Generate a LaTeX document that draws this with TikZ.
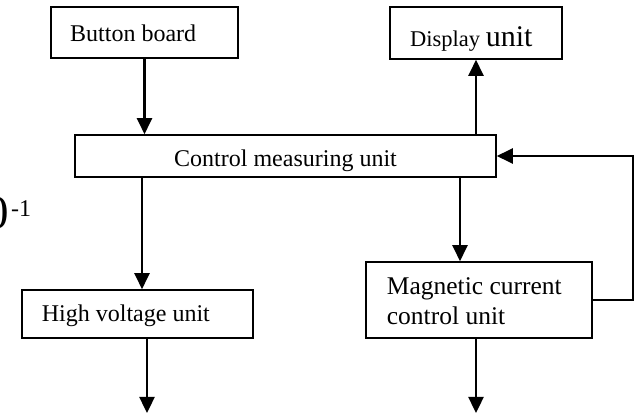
\documentclass[tikz,border=0pt]{standalone}
\usepackage{fontspec}
\setmainfont{Liberation Serif}
\usetikzlibrary{arrows.meta}
\tikzset{
  box/.style={draw=black, line width=1.6pt, rectangle, inner sep=0pt, fill=white},
  lbl/.style={anchor=base west, inner sep=0pt, text=black},
  arr/.style={draw=black, line width=2.4pt, -{Triangle[width=15pt,length=16pt]}},
  fbline/.style={draw=black, line width=2.4pt}
}
\begin{document}
\begin{tikzpicture}[x=1pt,y=-1pt]
\useasboundingbox (0,0) rectangle (638,414);
% boxes
\node[box, minimum width=187pt, minimum height=51pt] (bb) at (144.5,32.5) {};
\node[box, minimum width=172pt, minimum height=52pt] (disp) at (476,33) {};
\node[box, minimum width=421pt, minimum height=42pt] (ctrl) at (285.5,156) {};
\node[box, minimum width=231pt, minimum height=48pt] (hv) at (137.5,314) {};
\node[box, minimum width=226pt, minimum height=76pt] (mag) at (479,300) {};
% texts
\node[lbl, font=\fontsize{24}{29}\selectfont] (tbb) at (70,42) {Button board};
\node[lbl] (tdisp) at (410,47) {\fontsize{22.5}{27}\selectfont Display \fontsize{30}{36}\selectfont unit};
\node[lbl, font=\fontsize{24}{29}\selectfont] (tctrl) at (174,167) {Control measuring unit};
\node[lbl, font=\fontsize{24}{29}\selectfont] (thv) at (41.7,321.7) {High voltage unit};
\node[lbl, font=\fontsize{25.5}{30}\selectfont] (tmag1) at (386.7,295) {Magnetic current};
\node[lbl, font=\fontsize{25.5}{30}\selectfont] (tmag2) at (386.7,325) {control unit};
% stray text at left edge
\node[anchor=base east, inner sep=0pt, font=\fontsize{47}{56}\selectfont] (zero) at (9.5,229) {0};
\node[lbl, font=\fontsize{24}{29}\selectfont] (sup) at (11,217) {-1};
% free ends
\coordinate (hvout) at (147,413);
\coordinate (magout) at (476,413);
\coordinate (cm) at (460,0);
\coordinate (fb) at (633,0);
% connectors
\draw[arr] (bb.south) -- (bb.south |- ctrl.north);
\draw[arr] (ctrl.north -| disp.south) -- (disp.south);
\draw[arr] ([xshift=4.5pt]hv.north |- ctrl.south) -- ([xshift=4.5pt]hv.north);
\draw[arr] (hvout |- hv.south) -- (hvout);
\draw[arr] (cm |- ctrl.south) -- (cm |- mag.north);
\draw[arr] (magout |- mag.south) -- (magout);
\draw[arr] (mag.east) -- (mag.east -| fb) -- (fb |- ctrl.east) -- (ctrl.east);
\end{tikzpicture}
\end{document}
